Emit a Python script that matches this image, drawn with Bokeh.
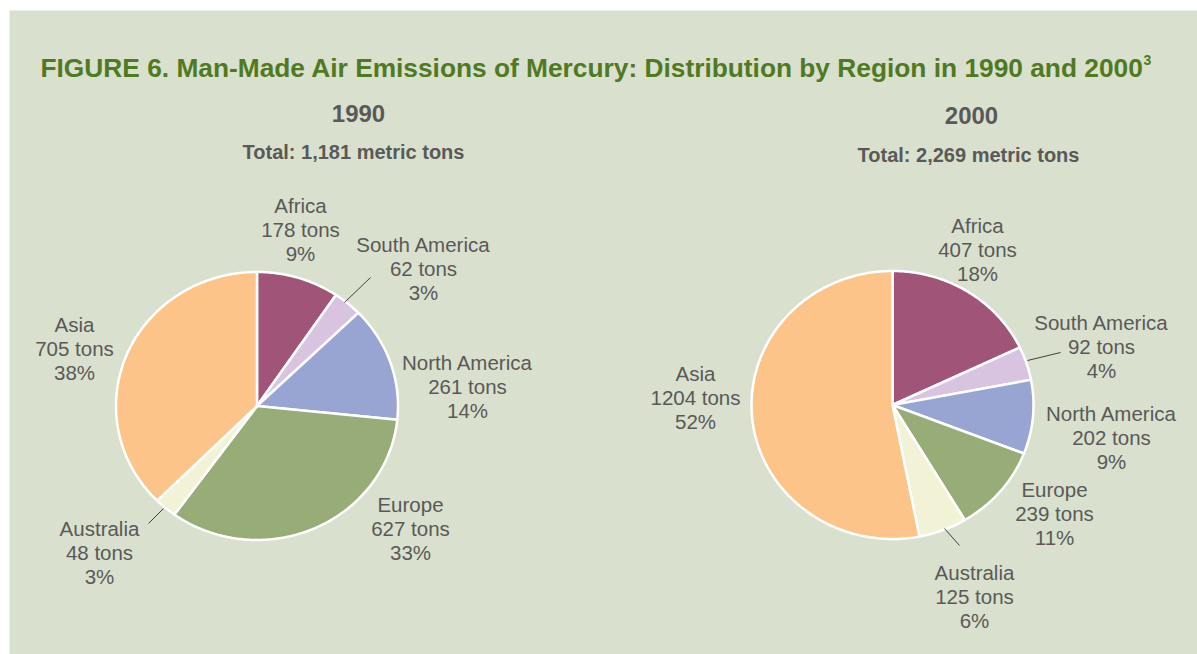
import numpy as np
from bokeh.plotting import figure
from bokeh.models import Range1d
from bokeh.core.properties import value
from bokeh.embed import file_html
from bokeh.resources import INLINE

# ---------------- data ----------------
regions = ["Africa", "South America", "North America", "Europe", "Australia", "Asia"]
tons_1990 = [178, 62, 261, 627, 48, 705]
pct_1990 = [9, 3, 14, 33, 3, 38]
tons_2000 = [407, 92, 202, 239, 125, 1204]
pct_2000 = [18, 4, 9, 11, 6, 52]
years = ["1990", "2000"]
totals = ["1,181", "2,269"]
title = "FIGURE 6. Man-Made Air Emissions of Mercury: Distribution by Region in 1990 and 2000"
footnote = "3"

# ---------------- style / layout ----------------
colors = ["#a05478", "#d8c4e0", "#98a4d2", "#98ac78", "#f2f2d6", "#fcc488"]
BG = "#dae0ce"
GREEN = "#4f7a21"
GRAY = "#595959"
FONT = value("Liberation Sans")

W, H = 1197, 654
centers = [(256.5, 405.5), (892, 404.5)]
RX, RY = 141, 134
label_pos = [
    [(300, 205), (423, 244), (467, 362), (410, 504), (99, 528), (74, 324)],
    [(977, 225), (1101, 322), (1111, 413), (1054, 489), (974, 572), (695, 373)],
]
header_pos = [((358, 113), (353, 151)), ((971, 115), (968, 154))]
leaders = [
    [((370, 277), (344, 302)), ((163, 508), (148, 523))],
    [((1060, 352), (1027, 360)), ((944, 528), (959, 545))],
]

p = figure(width=W, height=H, x_range=Range1d(0, W), y_range=Range1d(H, 0),
           output_backend="svg", toolbar_location=None, min_border=0)
p.axis.visible = False
p.grid.visible = False
p.outline_line_color = None
p.background_fill_color = "white"
p.border_fill_color = "white"

p.quad(left=[9], right=[1210], top=[10], bottom=[670], fill_color=BG, line_color=None)


def pie_shapes(vals, cx, cy):
    total = float(sum(vals))
    xs, ys = [], []
    start = 0.0
    for v in vals:
        a0 = start / total * 2 * np.pi
        a1 = (start + v) / total * 2 * np.pi
        t = np.linspace(a0, a1, max(int((a1 - a0) * 80) + 2, 4))
        xs.append([cx] + list(cx + RX * np.sin(t)) + [cx])
        ys.append([cy] + list(cy - RY * np.cos(t)) + [cy])
        start += v
    return xs, ys


for i, (tons, pcts) in enumerate([(tons_1990, pct_1990), (tons_2000, pct_2000)]):
    cx, cy = centers[i]
    xs, ys = pie_shapes(tons, cx, cy)
    p.patches(xs, ys, fill_color=colors, line_color="white", line_width=2.5,
              line_join="round")
    # leader lines
    for (a, b) in leaders[i]:
        p.line([a[0], b[0]], [a[1], b[1]], line_color="#404040", line_width=1)
    # labels
    tx, ty, tt = [], [], []
    for j, name in enumerate(regions):
        lx, ly = label_pos[i][j]
        lines = [name, f"{tons[j]} tons", f"{pcts[j]}%"]
        for k, s in enumerate(lines):
            tx.append(lx)
            ty.append(ly + 24 * k)
            tt.append(s)
    p.text(tx, ty, text=tt, text_font=FONT, text_font_size="20.5px", text_color=GRAY,
           text_align="center", text_baseline="middle")
    # headers
    (yx, yy), (ox, oy) = header_pos[i]
    p.text([yx], [yy], text=[years[i]], text_font=FONT, text_font_size="24px",
           text_font_style="bold", text_color=GRAY, text_align="center",
           text_baseline="middle")
    p.text([ox], [oy], text=[f"Total: {totals[i]} metric tons"], text_font=FONT,
           text_font_size="20px", text_font_style="bold", text_color=GRAY,
           text_align="center", text_baseline="middle")

p.text([40], [67], text=[title], text_font=FONT, text_font_size="26.3px",
       text_font_style="bold", text_color=GREEN, text_align="left",
       text_baseline="alphabetic")
p.text([1143], [59], text=[footnote], text_font=FONT, text_font_size="14px",
       text_font_style="bold", text_color=GREEN, text_align="left",
       text_baseline="alphabetic")

open("out.html", "w").write(file_html(p, INLINE))
